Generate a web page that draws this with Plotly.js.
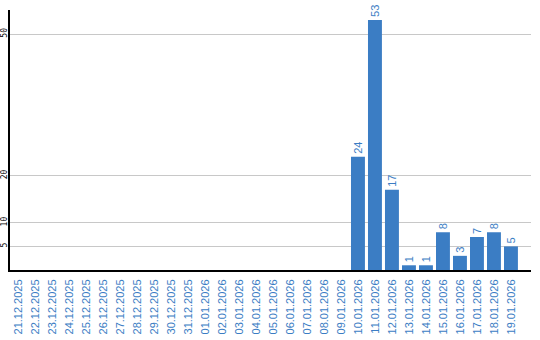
<!DOCTYPE html>
<html><head><meta charset="utf-8">
<script src="https://cdn.plot.ly/plotly-3.0.1.min.js"></script>
<style>html,body{margin:0;padding:0;background:#fff}#chart{width:540px;height:340px}</style>
</head><body><div id="chart"></div>
<script>
const dates = ["21.12.2025","22.12.2025","23.12.2025","24.12.2025","25.12.2025","26.12.2025","27.12.2025","28.12.2025","29.12.2025","30.12.2025","31.12.2025","01.01.2026","02.01.2026","03.01.2026","04.01.2026","05.01.2026","06.01.2026","07.01.2026","08.01.2026","09.01.2026","10.01.2026","11.01.2026","12.01.2026","13.01.2026","14.01.2026","15.01.2026","16.01.2026","17.01.2026","18.01.2026","19.01.2026"];
const values = [0,0,0,0,0,0,0,0,0,0,0,0,0,0,0,0,0,0,0,0,24,53,17,1,1,8,3,7,8,5];
const yTicks = [5,10,20,50];

const blue = '#3b7dc4';
const trace = {
  type:'bar', x:dates, y:values,
  text: values.map(v => v > 0 ? String(v) : ''),
  textposition:'outside', textangle:-90, cliponaxis:false,
  textfont:{family:'Liberation Sans, Arial, sans-serif', size:11, color:blue},
  marker:{color:blue}, width:0.82, hoverinfo:'none'
};
const layout = {
  width:540, height:340, margin:{l:10,r:9,t:10,b:70},
  paper_bgcolor:'#fff', plot_bgcolor:'#fff', showlegend:false,
  xaxis:{type:'category', range:[-0.47,30.18], tickangle:-90, showgrid:false,
    tickfont:{family:'Liberation Sans, Arial, sans-serif', size:11, color:blue},
    ticklabelstandoff:3,
    showline:true, linecolor:'#000', linewidth:2, ticks:'', zeroline:false, fixedrange:true},
  yaxis:{range:[0,55.1], tickmode:'array', tickvals:yTicks, ticktext:yTicks.map(String), tickangle:-90,
    tickfont:{family:'DejaVu Sans Mono, monospace', size:8, color:'#000'},
    ticklabelstandoff:-2,
    showgrid:true, gridcolor:'#c8c8c8', gridwidth:1, showline:true, linecolor:'#000', linewidth:2,
    ticks:'', zeroline:false, fixedrange:true}
};
Plotly.newPlot('chart',[trace],layout,{staticPlot:true,displayModeBar:false});
</script></body></html>
